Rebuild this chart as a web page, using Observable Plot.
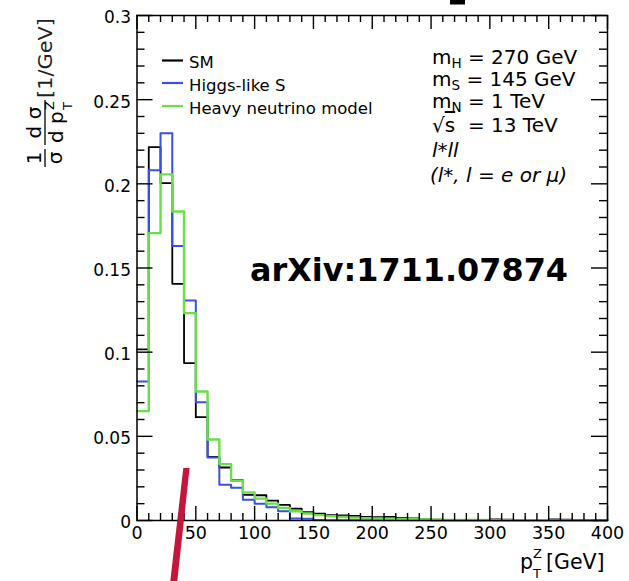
<!DOCTYPE html>
<html>
<head>
<meta charset="utf-8">
<script src="https://cdn.jsdelivr.net/npm/d3@7"></script>
<script src="https://cdn.jsdelivr.net/npm/@observablehq/plot@0.6"></script>
<style>
  html, body { margin: 0; padding: 0; background: #fff; }
  #chart svg { display: block; }
</style>
</head>
<body>
<div id="chart"></div>
<script>
// ---- data: normalized pT(Z) distributions, 10 GeV bins from 0 to 400 GeV ----
const binLow = [0,10,20,30,40,50,60,70,80,90,100,110,120,130,140,150,160,170,180,190,
                200,210,220,230,240,250,260,270,280,290,300,310,320,330,340,350,360,370,380,390];
const binWidth = 10;

const smValues = [0.1016,0.2218,0.2004,0.1406,0.0935,0.0614,0.0378,0.0315,0.0240,0.0152,
                  0.0150,0.0118,0.0093,0.0070,0.0050,0.0040,0.0032,0.0030,0.0027,0.0022,
                  0.0020,0.0022,0.0016,0.0012,0.0007,0.0005,0.0004,0.0004,0.0003,0.0003,
                  0.0006,0.0005,0.0003,0.0003,0.0003,0.0006,0.0005,0.0003,0.0002,0.0002];
const higgsValues = [0.0826,0.2080,0.2300,0.1630,0.1307,0.0703,0.0374,0.0212,0.0195,0.0123,
                     0.0100,0.0078,0.0055,0.0012,0.0010,0.0003,0.0002,0.0002,0.0001,0.0001,
                     0.0001,0.0001,0.0001,0.0001,0.0001,0.0000,0.0000,0.0000,0.0000,0.0000,
                     0.0000,0.0000,0.0000,0.0000,0.0000,0.0000,0.0000,0.0000,0.0000,0.0000];
const heavyNValues = [0.0650,0.1707,0.2056,0.1836,0.1232,0.0766,0.0481,0.0335,0.0236,0.0166,
                      0.0130,0.0100,0.0075,0.0055,0.0042,0.0032,0.0026,0.0021,0.0017,0.0014,
                      0.0012,0.0010,0.0009,0.0007,0.0006,0.0005,0.0004,0.0004,0.0003,0.0003,
                      0.0002,0.0002,0.0002,0.0002,0.0002,0.0001,0.0001,0.0001,0.0001,0.0001];

const seriesNames = ["SM", "Higgs-like S", "Heavy neutrino model"];
const seriesColors = ["#000000", "#3a4fe6", "#6ade46"];

const xMajorTicks = [0,50,100,150,200,250,300,350,400];
const xMinorTicks = [10,20,30,40,60,70,80,90,110,120,130,140,160,170,180,190,210,220,230,240,
                     260,270,280,290,310,320,330,340,360,370,380,390];
const yMajorTicks = [0,0.05,0.1,0.15,0.2,0.25,0.3];
const yMinorTicks = [0.01,0.02,0.03,0.04,0.06,0.07,0.08,0.09,0.11,0.12,0.13,0.14,
                     0.16,0.17,0.18,0.19,0.21,0.22,0.23,0.24,0.26,0.27,0.28,0.29];

const infoLines = ["= 270 GeV", "= 145 GeV", "= 1 TeV", "= 13 TeV"];

// build step tables (one point per bin left edge plus the closing right edge)
function steps(values, series) {
  const pts = binLow.map((x, i) => ({x, y: values[i], series}));
  pts.push({x: binLow[binLow.length - 1] + binWidth, y: values[values.length - 1], series});
  return pts;
}
const histData = [
  ...steps(smValues, seriesNames[0]),
  ...steps(higgsValues, seriesNames[1]),
  ...steps(heavyNValues, seriesNames[2])
];

const W = 629, H = 581;
const mL = 136.5, mR = 22, mT = 15, mB = 61;
const innerW = W - mL - mR, innerH = H - mT - mB;
const xDom = [0, 400], yDom = [0, 0.3];
// tick lengths in pixels, converted to data units along the perpendicular axis
const yPerPx = (yDom[1] - yDom[0]) / innerH, xPerPx = (xDom[1] - xDom[0]) / innerW;
const xMajLen = 14 * yPerPx, xMinLen = 7 * yPerPx, yMajLen = 16 * xPerPx, yMinLen = 8 * xPerPx;

const tickStyle = {stroke: "black", strokeWidth: 1.4};
const plot = Plot.plot({
  width: W, height: H,
  marginLeft: mL, marginRight: mR, marginTop: mT, marginBottom: mB,
  style: {fontFamily: "DejaVu Sans", fontSize: "17px", color: "#000", background: "#fff", overflow: "visible"},
  x: {domain: xDom},
  y: {domain: yDom},
  color: {domain: seriesNames, range: seriesColors},
  marks: [
    Plot.line(histData.filter(d => d.series === seriesNames[0]), {x: "x", y: "y", stroke: "series", curve: "step-after", strokeWidth: 1.8}),
    Plot.line(histData.filter(d => d.series === seriesNames[1]), {x: "x", y: "y", stroke: "series", curve: "step-after", strokeWidth: 2}),
    Plot.line(histData.filter(d => d.series === seriesNames[2]), {x: "x", y: "y", stroke: "series", curve: "step-after", strokeWidth: 2.4}),
    // inward ticks on all four sides
    Plot.ruleX(xMajorTicks, {x: d => d, y1: yDom[0], y2: yDom[0] + xMajLen, ...tickStyle}),
    Plot.ruleX(xMinorTicks, {x: d => d, y1: yDom[0], y2: yDom[0] + xMinLen, ...tickStyle}),
    Plot.ruleX(xMajorTicks, {x: d => d, y1: yDom[1], y2: yDom[1] - xMajLen, ...tickStyle}),
    Plot.ruleX(xMinorTicks, {x: d => d, y1: yDom[1], y2: yDom[1] - xMinLen, ...tickStyle}),
    Plot.ruleY(yMajorTicks, {y: d => d, x1: xDom[0], x2: xDom[0] + yMajLen, ...tickStyle}),
    Plot.ruleY(yMinorTicks, {y: d => d, x1: xDom[0], x2: xDom[0] + yMinLen, ...tickStyle}),
    Plot.ruleY(yMajorTicks, {y: d => d, x1: xDom[1], x2: xDom[1] - yMajLen, ...tickStyle}),
    Plot.ruleY(yMinorTicks, {y: d => d, x1: xDom[1], x2: xDom[1] - yMinLen, ...tickStyle}),
    Plot.frame({stroke: "#000", strokeWidth: 1.5}),
    Plot.axisX(xMajorTicks, {anchor: "bottom", tickSize: 0, tickPadding: 6, tickFormat: d => String(d), label: null, fontSize: 17.5}),
    Plot.axisY(yMajorTicks, {anchor: "left", tickSize: 0, tickPadding: 6, dy: 2.5, tickFormat: d => String(d), label: null, fontSize: 17})
  ]
});
document.getElementById("chart").appendChild(plot);

const svg = d3.select(plot);
const font = "DejaVu Sans";

// ---- legend ----
const legendY = [60.5, 83, 106];
const lg = svg.append("g").attr("font-family", font).attr("font-size", 16.5).attr("text-anchor", "start");
seriesNames.forEach((name, i) => {
  lg.append("line").attr("x1", 162).attr("x2", 183).attr("y1", legendY[i]).attr("y2", legendY[i])
    .attr("stroke", seriesColors[i]).attr("stroke-width", 2.2);
  lg.append("text").attr("x", 189).attr("y", legendY[i] + 7.5).attr("fill", "#000").text(name);
});

// ---- info block ----
const ib = svg.append("g").attr("font-family", font).attr("font-size", 20).attr("fill", "#000").attr("text-anchor", "start");
const subs = ["H", "S", "N"];
const rowY = [64, 86, 108, 132, 157, 182];
subs.forEach((s, i) => {
  const t = ib.append("text").attr("x", 432).attr("y", rowY[i]);
  t.append("tspan").text("m");
  t.append("tspan").attr("font-size", 13.5).attr("dy", 4).text(s);
  t.append("tspan").attr("dy", -4).text(" " + infoLines[i]);
});
{
  const t = ib.append("text").attr("x", 432).attr("y", rowY[3]);
  t.append("tspan").text("√");
  t.append("tspan").style("text-decoration", "overline").text("s");
  t.append("tspan").text("  " + infoLines[3]);
}
ib.append("text").attr("x", 432).attr("y", rowY[4]).attr("font-style", "italic").text("l*ll");
ib.append("text").attr("x", 430).attr("y", rowY[5]).attr("font-style", "italic").text("(l*, l = e or μ)");

// ---- arXiv watermark ----
svg.append("text").attr("x", 250).attr("y", 281).attr("font-family", font).attr("font-weight", "bold")
  .attr("text-anchor", "start")
  .attr("font-size", 31.5).attr("textLength", 318).attr("lengthAdjust", "spacingAndGlyphs")
  .attr("fill", "#000").text("arXiv:1711.07874");

// ---- x-axis title ----
const xt = svg.append("g").attr("font-family", font).attr("fill", "#000").attr("text-anchor", "start");
xt.append("text").attr("x", 520).attr("y", 569).attr("font-size", 20.5).text("p");
xt.append("text").attr("x", 533).attr("y", 558).attr("font-size", 13).text("Z");
xt.append("text").attr("x", 533).attr("y", 578).attr("font-size", 13).text("T");
xt.append("text").attr("x", 546).attr("y", 569).attr("font-size", 20.5).text("[GeV]");

// ---- y-axis title (rotated, fraction layout) ----
const yt = svg.append("g").attr("transform", "translate(45,158) rotate(-90)")
  .attr("font-family", font).attr("fill", "#000").attr("text-anchor", "start");
yt.append("text").attr("x", 0).attr("y", -4).attr("font-size", 20).attr("text-anchor", "middle").text("1");
yt.append("line").attr("x1", -9).attr("x2", 9).attr("y1", 0).attr("y2", 0).attr("stroke", "#000").attr("stroke-width", 1.3);
yt.append("text").attr("x", 0).attr("y", 17).attr("font-size", 20).attr("text-anchor", "middle").text("σ");
yt.append("text").attr("x", 35.5).attr("y", -4).attr("font-size", 20).attr("text-anchor", "middle").text("d σ");
yt.append("line").attr("x1", 13).attr("x2", 58).attr("y1", 0).attr("y2", 0).attr("stroke", "#000").attr("stroke-width", 1.3);
yt.append("text").attr("x", 15).attr("y", 18).attr("font-size", 20).text("d p");
yt.append("text").attr("x", 48).attr("y", 9).attr("font-size", 13).text("Z");
yt.append("text").attr("x", 48).attr("y", 27).attr("font-size", 13).text("T");
yt.append("text").attr("x", 100).attr("y", 7).attr("font-size", 19).attr("text-anchor", "middle")
  .attr("textLength", 80).attr("lengthAdjust", "spacingAndGlyphs").attr("fill", "#222").text("[1/GeV]");

// ---- overlays present in the picture ----
svg.append("rect").attr("x", 450).attr("y", 0).attr("width", 15).attr("height", 4.5).attr("fill", "#000");
svg.append("polygon").attr("points", "183.3,468 189.6,468 177.3,581 170.3,581").attr("fill", "#c4153b");
</script>
</body>
</html>
